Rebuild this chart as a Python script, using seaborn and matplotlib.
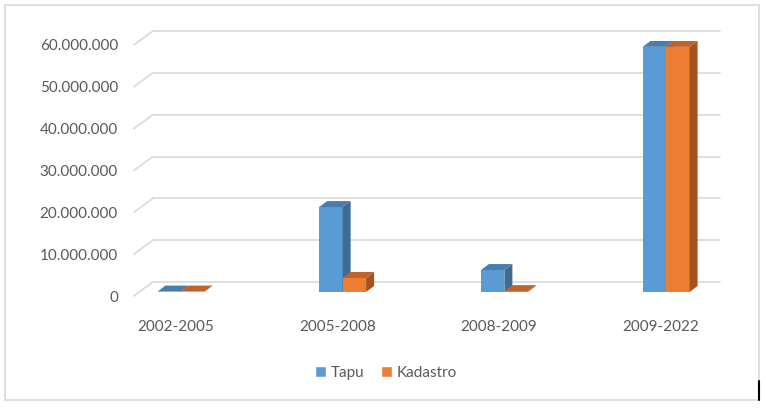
import matplotlib
matplotlib.use("Agg")
import matplotlib.pyplot as plt
import matplotlib.transforms as mtransforms
from matplotlib.patches import Polygon, Rectangle
from matplotlib.lines import Line2D
import seaborn as sns
import pandas as pd

categories = ["2002-2005", "2005-2008", "2008-2009", "2009-2022"]
tapu = [100000, 20300000, 5250000, 58600000]
kadastro = [100000, 3350000, 200000, 58600000]
series_names = ["Tapu", "Kadastro"]
yticks = [0, 10000000, 20000000, 30000000, 40000000, 50000000, 60000000]
ytick_labels = ["0", "10.000.000", "20.000.000", "30.000.000", "40.000.000", "50.000.000", "60.000.000"]

front_colors = {"Tapu": "#5B9BD5", "Kadastro": "#ED7D31"}
side_colors = {"Tapu": "#3E6A93", "Kadastro": "#A4531E"}
top_colors = {"Tapu": "#4A7DAE", "Kadastro": "#C0632A"}

df = pd.DataFrame({
    "Period": categories * 2,
    "Value": tapu + kadastro,
    "Series": [series_names[0]] * 4 + [series_names[1]] * 4,
})

sns.set_theme(style="white")
plt.rcParams["font.family"] = ["Lato", "DejaVu Sans"]
TXT = "#595959"

W, H = 766, 408
fig = plt.figure(figsize=(W / 100, H / 100), dpi=100)
# axes: bar plane, x from 100 to 747 px, y 0 at 292 px, 60M at 41 px
ax = fig.add_axes([100 / W, (H - 292) / H, 647 / W, 251 / H])

sns.barplot(data=df, x="Period", y="Value", hue="Series", order=categories,
            hue_order=series_names, palette=front_colors, width=0.29,
            saturation=1, ax=ax, legend=False, linewidth=0)
ax.set_xlim(-0.5, 3.5)
ax.set_ylim(0, 60000000)
for s in ax.spines.values():
    s.set_visible(False)
ax.set_xlabel("")
ax.set_ylabel("")

fig.canvas.draw()
p0 = ax.transData.transform((0, 0))
px_x = ax.transData.transform((1, 0))[0] - p0[0]
px_y = ax.transData.transform((0, 1))[1] - p0[1]

def off(dx_px, dy_px):
    return mtransforms.ScaledTranslation(dx_px / 100, dy_px / 100, fig.dpi_scale_trans)

# gridlines on back wall + left diagonal
x_base = (139.4 - 181) / 161.7
x_end = (706.4 - 181) / 161.7
gcol = "#D9D9D9"
for yv in yticks:
    ax.plot([x_base, x_end], [yv, yv], color=gcol, lw=1.2, zorder=0,
            transform=ax.transData + off(13.6, 10), clip_on=False)
    dxs = [-5.4 / px_x, 13.6 / px_x]
    dys = [-4 / px_y, 10 / px_y]
    ax.plot([x_base + dxs[0], x_base + dxs[1]], [yv + dys[0], yv + dys[1]],
            color=gcol, lw=1.2, zorder=0, clip_on=False)

# 3D faces
dx = 8 / px_x
dy = 6 / px_y
patches = [p for p in ax.patches]
names = []
for p in patches:
    fc = p.get_facecolor()
    names.append("Tapu" if fc[2] > fc[0] else "Kadastro")
order = sorted(range(len(patches)), key=lambda i: patches[i].get_x())
z = 2
for i in order:
    p = patches[i]
    n = names[i]
    x0, w, h = p.get_x(), p.get_width(), p.get_height()
    x1 = x0 + w
    p.set_zorder(z)
    side = Polygon([(x1, 0), (x1 + dx, dy), (x1 + dx, h + dy), (x1, h)],
                   closed=True, facecolor=side_colors[n], edgecolor="none", zorder=z + 0.1)
    top = Polygon([(x0, h), (x0 + dx, h + dy), (x1 + dx, h + dy), (x1, h)],
                  closed=True, facecolor=top_colors[n], edgecolor="none", zorder=z + 0.2)
    ax.add_patch(side)
    ax.add_patch(top)
    z += 1

# ticks
ax.set_yticks(yticks)
ax.set_yticklabels(ytick_labels)
ax.tick_params(axis="y", length=0, pad=0, labelsize=11, labelcolor=TXT)
ax.tick_params(axis="x", length=0, pad=20, labelsize=11, labelcolor=TXT)
for lab in ax.get_yticklabels():
    lab.set_transform(lab.get_transform() + off(18, -4))
for lab in ax.get_xticklabels():
    lab.set_transform(lab.get_transform() + off(-5.4, 0))
ax.grid(False)

# legend
handles = [Rectangle((0, 0), 1, 1, facecolor=front_colors[n]) for n in series_names]
fig.legend(handles, series_names, loc="center", bbox_to_anchor=(386 / W, 1 - 373 / H),
           ncol=2, frameon=False, fontsize=11, labelcolor=TXT, handlelength=0.7,
           handleheight=0.7, handletextpad=0.3, columnspacing=1.15)

# chart border
fig.add_artist(Rectangle((5 / W, 1 - 400 / H), 754 / W, 395 / H, transform=fig.transFigure,
                         fill=False, edgecolor="#D9D9D9", lw=1.2))
fig.add_artist(Line2D([759 / W, 759 / W], [1 - 400 / H, 1 - 381 / H], transform=fig.transFigure,
                      color="black", lw=1.5))

fig.savefig("out.png", dpi=100)
